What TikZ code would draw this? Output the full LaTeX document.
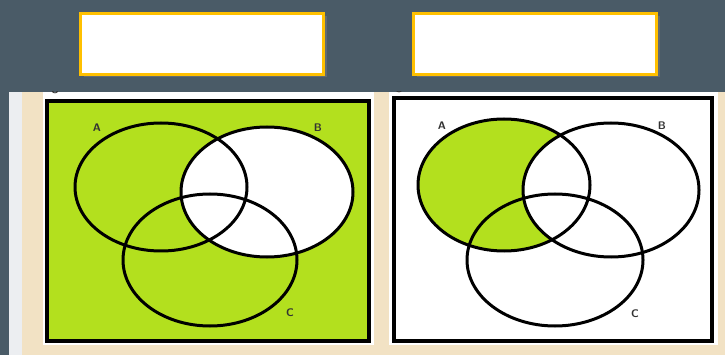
\documentclass[tikz,border=0pt]{standalone}
\usetikzlibrary{shadows}
\definecolor{slate}{HTML}{4A5B67}
\definecolor{parch}{HTML}{F2E2C4}
\definecolor{paleside}{HTML}{ECEEF1}
\definecolor{lime}{HTML}{B3E01E}
\definecolor{gold}{HTML}{FFC000}

\begin{document}
\begin{tikzpicture}[x=1pt,y=-1pt,
  titlebox/.style={draw=gold,line width=3pt,fill=white,inner sep=0pt,
    minimum width=243pt,minimum height=61pt,
    drop shadow={opacity=0.45,shadow xshift=3pt,shadow yshift=-3pt}},
  setline/.style={line width=3pt,black},
  frameline/.style={line width=3.2pt,black},
  setlabel/.style={font=\fontsize{11}{12}\sffamily\bfseries,text=black!80,inner sep=0pt}]
  \useasboundingbox (0,0) rectangle (725,355);
  % backdrop
  \fill[slate] (0,0) rectangle (725,355);
  \fill[paleside] (9,92) rectangle (22,355);
  \fill[parch] (22,92) rectangle (725,355);
  % empty title boxes
  \node[titlebox] (leftbox) at (202,44) {};
  \node[titlebox] (rightbox) at (535,44) {};
  % white panels
  \fill[white] (43,92) rectangle (374,345);
  \fill[white] (389,92) rectangle (718,345);
  \begin{scope}
    \clip (0,92) rectangle (725,355);
    \node[font=\fontsize{11}{11}\sffamily\bfseries,text=black!80,inner sep=0pt] (leftU) at (55,90) {U};
    \node[font=\fontsize{11}{11}\sffamily\bfseries,text=black!80,inner sep=0pt] (rightU) at (399,89) {U};
  \end{scope}

  % left diagram: complement of B
  \coordinate (lA) at (161,187);
  \coordinate (lB) at (267,192);
  \coordinate (lC) at (210,260);
  \fill[lime] (47,101) rectangle (369,341);
  \fill[white] (lB) ellipse [x radius=86pt,y radius=65pt];
  \draw[setline] (lA) ellipse [x radius=86pt,y radius=64pt];
  \draw[setline] (lB) ellipse [x radius=86pt,y radius=65pt];
  \draw[setline] (lC) ellipse [x radius=87pt,y radius=66pt];
  \draw[frameline] (47,101) rectangle (369,341);
  \node[setlabel] (lAlabel) at (97,128) {A};
  \node[setlabel] (lBlabel) at (318,128) {B};
  \node[setlabel] (lClabel) at (290,313) {C};

  % right diagram: A minus B
  \coordinate (rA) at (504,185);
  \coordinate (rB) at (611,190);
  \coordinate (rC) at (555,260);
  \begin{scope}
    \clip (rA) ellipse [x radius=86pt,y radius=66pt];
    \fill[lime] (rA) ellipse [x radius=86pt,y radius=66pt];
    \fill[white] (rB) ellipse [x radius=88pt,y radius=67pt];
  \end{scope}
  \draw[setline] (rA) ellipse [x radius=86pt,y radius=66pt];
  \draw[setline] (rB) ellipse [x radius=88pt,y radius=67pt];
  \draw[setline] (rC) ellipse [x radius=88pt,y radius=66pt];
  \draw[frameline] (394,98) rectangle (712,341);
  \node[setlabel] (rAlabel) at (442,126) {A};
  \node[setlabel] (rBlabel) at (662,126) {B};
  \node[setlabel] (rClabel) at (635,314) {C};
\end{tikzpicture}
\end{document}
